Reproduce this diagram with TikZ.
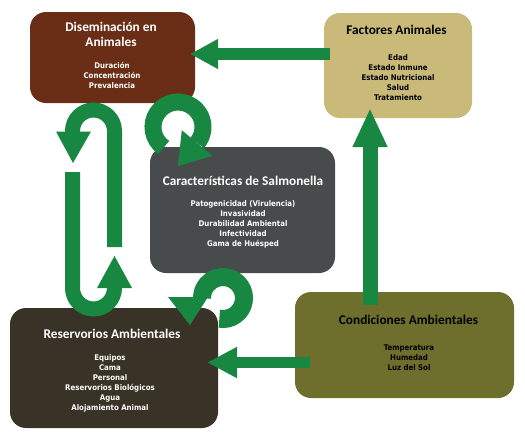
\documentclass[tikz,border=0pt]{standalone}
\usepackage{fontspec}
\usetikzlibrary{arrows.meta,calc}
\newfontfamily\ttlfont{Carlito}
\newfontfamily\itmfont{DejaVu Sans Condensed}
\definecolor{brownbox}{RGB}{106,45,22}
\definecolor{tanbox}{RGB}{201,186,122}
\definecolor{graybox}{RGB}{72,75,75}
\definecolor{darkbox}{RGB}{57,50,38}
\definecolor{olivebox}{RGB}{110,111,45}
\definecolor{arrgreen}{RGB}{24,135,66}
\begin{document}
\begin{tikzpicture}[x=1pt,y=-1pt,
  box/.style={rectangle,rounded corners=16pt,inner sep=0pt,outer sep=0pt},
  ttl/.style={font=\ttlfont\bfseries\fontsize{13.3}{15}\selectfont,align=center,inner sep=0pt},
  itm/.style={font=\itmfont\bfseries\fontsize{7.8}{10}\selectfont,align=center,inner sep=0pt},
  loopline/.style={draw=arrgreen,line cap=butt},
  headfill/.style={fill=arrgreen}]
\useasboundingbox (0,0) rectangle (525,445);
\fill[white] (0,0) rectangle (525,445);

% boxes
\node[box,fill=brownbox,minimum width=165pt,minimum height=91pt] (dis) at (112.5,57.5) {};
\node[box,fill=tanbox,minimum width=148pt,minimum height=105pt] (fac) at (398,65.5) {};
\node[box,fill=graybox,minimum width=185pt,minimum height=126pt] (car) at (242.5,210) {};
\node[box,fill=darkbox,minimum width=208pt,minimum height=120pt] (res) at (114,368) {};
\node[box,fill=olivebox,minimum width=219pt,minimum height=106pt] (con) at (404.5,345) {};

% texts
\node[ttl,text=white] (dist) at (111,34.5) {Diseminación en\\Animales};
\node[itm,text=white] (disi) at (112,75) {Duración\\Concentración\\Prevalencia};
\node[ttl,text=black] (fact) at (396.5,30) {Factores Animales};
\node[itm,text=black] (faci) at (398,78) {Edad\\Estado Inmune\\Estado Nutricional\\Salud\\Tratamiento};
\node[ttl,text=white] (cart) at (243,181) {Características de Salmonella};
\node[itm,text=white] (cari) at (243,224) {Patogenicidad (Virulencia)\\Invasividad\\Durabilidad Ambiental\\Infectividad\\Gama de Huésped};
\node[ttl,text=white] (rest) at (112,334) {Reservorios Ambientales};
\node[itm,text=white] (resi) at (110,383) {Equipos\\Cama\\Personal\\Reservorios Biológicos\\Agua\\Alojamiento Animal};
\node[ttl,text=black] (cont) at (408.5,320) {Condiciones Ambientales};
\node[itm,text=black] (coni) at (409,358) {Temperatura\\Humedad\\Luz del Sol};

% straight arrows
\draw[arrgreen,line width=12pt,-{Triangle[length=28pt,width=28pt]}]
  ([xshift=6pt,yshift=11.5pt]fac.west) -- ([xshift=-5pt,yshift=3.5pt]dis.east);
\draw[arrgreen,line width=15pt,-{Triangle[length=39pt,width=32pt]}]
  ([xshift=-34.5pt,yshift=-13pt]con.north) -- ([xshift=-28pt,yshift=10pt]fac.south);
\draw[arrgreen,line width=11pt,-{Triangle[length=30pt,width=29pt]}]
  ([xshift=15pt,yshift=-17.5pt]con.west) -- ([xshift=-11pt,yshift=5.5pt]res.east);

% loop arrows between Diseminacion and Reservorios
\coordinate (l1s) at (114.5,247);
\coordinate (l2s) at (72.5,172);
\draw[loopline,line width=15pt] (l1s) -- (114.5,131) arc[start angle=0,end angle=-180,radius=21] -- (72.5,132);
\fill[headfill] (56,131.5) -- (91,131.5) -- (73,163) -- cycle;
\draw[loopline,line width=15pt] (l2s) -- (72.5,288) arc[start angle=180,end angle=0,radius=21] -- (114.5,287);
\fill[headfill] (97,288) -- (132,288) -- (114.5,256) -- cycle;

% circular arrows
\coordinate (r1) at (178,127);
\draw[loopline,line width=17pt] ($(r1)+(125:25)$) arc[start angle=125,end angle=400,radius=25];
\fill[headfill] ($(r1)+(40:25)+(40:20)$) -- ($(r1)+(40:25)+(220:20)$) -- ($(r1)+(40:25)+(130:30)$) -- cycle;
\coordinate (r2) at (223,298);
\draw[loopline,line width=18pt] ($(r2)+(100:21)$) arc[start angle=100,end angle=-180,radius=21];
\fill[headfill] ($(r2)+(-55,-1)$) -- ($(r2)+(-15,-1)$) -- ($(r2)+(-33,27)$) -- cycle;
\end{tikzpicture}
\end{document}
